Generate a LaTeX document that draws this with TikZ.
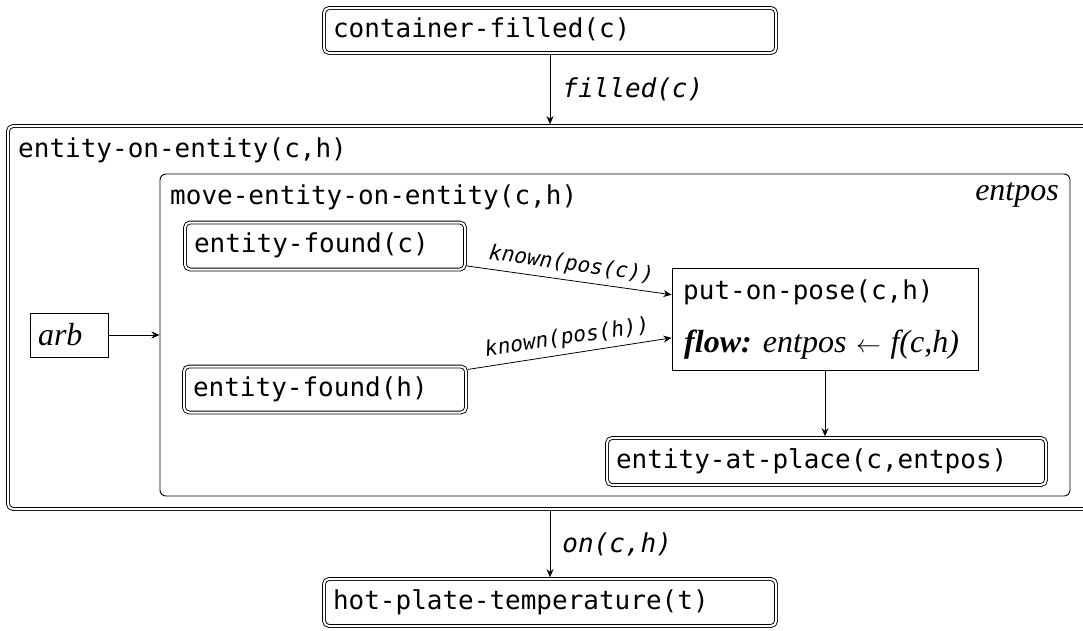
\documentclass[tikz,border=0pt]{standalone}
\usepackage{fontspec}
\setmainfont{Liberation Serif}
\setmonofont{DejaVu Sans Mono}
\usetikzlibrary{arrows.meta}
\newcommand\dgmono{\fontsize{26}{30}\selectfont\ttfamily}
\newcommand\dgmonoit{\fontsize{26}{30}\selectfont\ttfamily\itshape}
\newcommand\dgsmall{\fontsize{21.2}{24}\selectfont\ttfamily\itshape}
\newcommand\dgserif{\fontsize{32}{36}\selectfont\rmfamily\itshape}
\begin{document}
\begin{tikzpicture}[x=1pt,y=-1pt,
  dbox/.style={draw, double, double distance=2pt, line width=0.9pt, rounded corners=5pt,
    inner xsep=9pt, inner ysep=0pt, outer sep=1.8pt, align=left, font=\dgmono,
    text height=19pt, text depth=6pt},
  cbox/.style={draw, line width=0.9pt, rounded corners=6pt, inner sep=0pt, outer sep=0.5pt},
  sbox/.style={draw, line width=0.9pt, inner sep=0pt, outer sep=0.5pt},
  title/.style={anchor=west, inner sep=0pt, font=\dgmono},
  elab/.style={anchor=west, inner sep=0pt, font=\dgmonoit},
  klab/.style={sloped, above=5pt, inner sep=0pt, font=\dgsmall},
  arr/.style={-{Stealth[length=8pt,width=7pt,inset=2.5pt]}, line width=0.8pt}]
\useasboundingbox (0,0) rectangle (1083,630);

% containers
\node[dbox, minimum width=1092pt, minimum height=383pt] (outer) at (554,317.5) {};
\node[title] (outertitle) at (18,150) {entity-on-entity(c,h)};
\node[cbox, minimum width=910pt, minimum height=322pt] (inner) at (615,335) {};
\node[title] (innertitle) at (170,197) {move-entity-on-entity(c,h)};
\node[anchor=east, inner sep=0pt, font=\dgserif] (entpos) at (1059,195) {entpos};

% boxes
\node[dbox, minimum width=452pt, minimum height=45pt, text width=434pt] (cf) at (550,30.5) {container-filled(c)};
\node[dbox, minimum width=280pt, minimum height=47pt, text width=262pt] (ef1) at (325,246) {entity-found(c)};
\node[dbox, minimum width=282pt, minimum height=46pt, text width=264pt] (ef2) at (325,389.5) {entity-found(h)};
\node[dbox, minimum width=439pt, minimum height=47pt, text width=421pt] (eap) at (826.5,461.5) {entity-at-place(c,entpos)};
\node[dbox, minimum width=452pt, minimum height=47pt, text width=434pt] (hp) at (550,602.5) {hot-plate-temperature(t)};
\node[sbox, minimum width=78pt, minimum height=44pt, text width=62pt, inner xsep=8pt, align=left, font=\dgserif] (arb) at (69,335) {arb};
\node[sbox, minimum width=306pt, minimum height=102pt] (pp) at (825,319) {};
\node[title] (pptitle) at (683,292) {put-on-pose(c,h)};
\node[anchor=west, inner sep=0pt, font=\dgserif] (ppflow) at (684,345) {\textbf{flow:}\hspace{0.35em}entpos\hspace{0.3em}$\leftarrow$\hspace{0.3em}f(c,h)};

% connectors
\draw[arr] (cf.south) -- (cf.south |- outer.north)
  node[elab, pos=0.5, xshift=12pt] {filled(c)};
\draw[arr] (hp.north |- outer.south) -- (hp.north)
  node[elab, pos=0.5, xshift=12pt] {on(c,h)};
\draw[arr] (arb.east) -- (arb.east -| inner.west);
\draw[arr] (ef1.-8) -- node[klab] {known(pos(c))} (pp.171);
\draw[arr] (ef2.8) -- node[klab] {known(pos(h))} (pp.-173);
\draw[arr] (pp.south) -- (pp.south |- eap.north);
\end{tikzpicture}
\end{document}
